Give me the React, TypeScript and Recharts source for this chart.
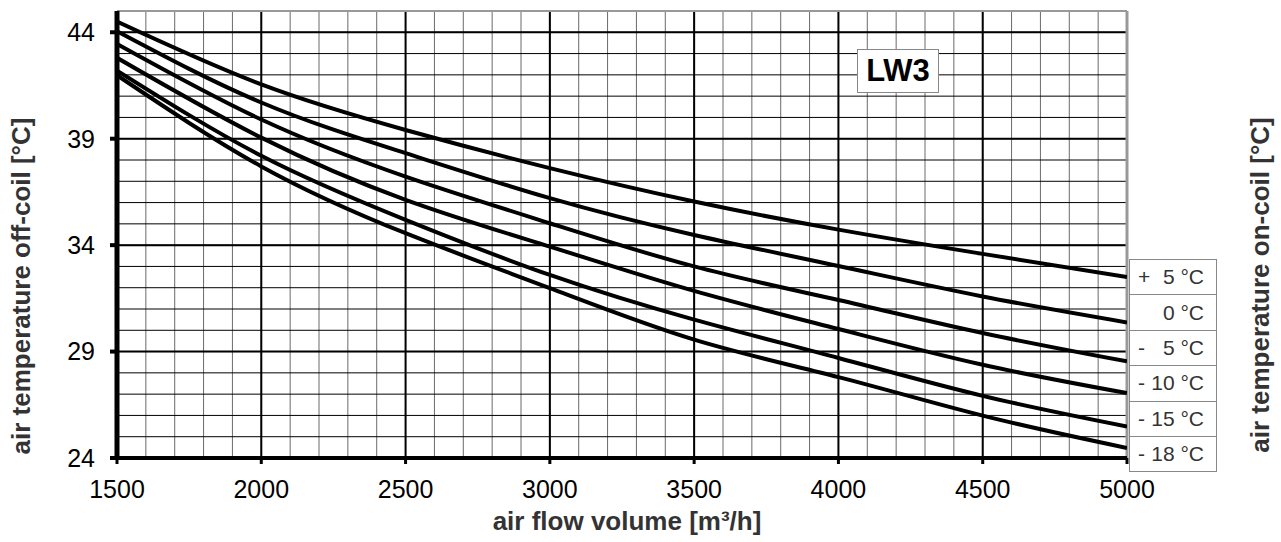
import { LineChart, Line, XAxis, YAxis, CartesianGrid, ReferenceLine } from "recharts"

// air flow volume [m³/h]
const airFlow = [1500, 2000, 2500, 3000, 3500, 4000, 4500, 5000]

// on-coil temperatures, one curve each
const onCoilTemps = [5, 0, -5, -10, -15, -18]

// off-coil temperature [°C] per curve
const offCoilPlus5 = [44.5, 41.55, 39.41, 37.62, 36.05, 34.73, 33.59, 32.5]
const offCoil0 = [44.05, 40.7, 38.32, 36.21, 34.48, 33.02, 31.59, 30.37]
const offCoilMinus5 = [43.45, 39.9, 37.22, 35.03, 33.0, 31.42, 29.87, 28.54]
const offCoilMinus10 = [42.8, 39.05, 36.13, 33.93, 31.85, 30.06, 28.38, 27.05]
const offCoilMinus15 = [42.2, 38.2, 35.19, 32.6, 30.5, 28.7, 26.92, 25.48]
const offCoilMinus18 = [41.98, 37.7, 34.56, 31.98, 29.56, 27.8, 25.99, 24.47]

const xTicks = [1500, 2000, 2500, 3000, 3500, 4000, 4500, 5000]
const yTicks = [24, 29, 34, 39, 44]

// fine grid: every 100 m³/h and every 1 °C
const xMinor = Array.from({ length: 36 }, (_, i) => 1500 + i * 100)
const yMinor = Array.from({ length: 22 }, (_, i) => 24 + i)

const curves = [offCoilPlus5, offCoil0, offCoilMinus5, offCoilMinus10, offCoilMinus15, offCoilMinus18]
const keys = onCoilTemps.map((t) => `t${t}`)

const data = airFlow.map((flow, i) => {
  const row: Record<string, number> = { flow }
  keys.forEach((k, s) => {
    row[k] = curves[s][i]
  })
  return row
})

const FONT = "'Liberation Sans', Arial, sans-serif"

function tempLabel(t: number) {
  const sign = t > 0 ? "+" : t < 0 ? "-" : ""
  return { sign, value: `${Math.abs(t)} °C` }
}

export default function App() {
  return (
    <div
      style={{
        position: "absolute",
        left: 0,
        top: 0,
        width: 1281,
        height: 542,
        background: "#fff",
        fontFamily: FONT,
      }}
    >
      <LineChart
        width={1281}
        height={542}
        data={data}
        margin={{ top: 11, right: 154, bottom: 0, left: 0 }}
      >
        <XAxis
          xAxisId="minor"
          type="number"
          dataKey="flow"
          domain={[1500, 5000]}
          ticks={xMinor}
          interval={0}
          allowDataOverflow
          hide
        />
        <YAxis
          yAxisId="minor"
          type="number"
          domain={[24, 45]}
          ticks={yMinor}
          interval={0}
          allowDataOverflow
          hide
        />
        <CartesianGrid xAxisId="minor" yAxisId="minor" horizontal={false} stroke="#6a6a6a" strokeWidth={1} />
        <CartesianGrid xAxisId="minor" yAxisId="minor" vertical={false} stroke="#000" strokeWidth={1} />
        <CartesianGrid stroke="#000" strokeWidth={2} />
        <XAxis
          dataKey="flow"
          type="number"
          domain={[1500, 5000]}
          ticks={xTicks}
          interval={0}
          allowDataOverflow
          height={84}
          tickSize={6}
          tickMargin={16}
          axisLine={{ stroke: "#000", strokeWidth: 4 }}
          tickLine={{ stroke: "#000", strokeWidth: 3 }}
          tick={{ fill: "#000", fontSize: 25, fontFamily: FONT }}
        />
        <YAxis
          type="number"
          domain={[24, 45]}
          ticks={yTicks}
          interval={0}
          allowDataOverflow
          width={117}
          tickSize={7}
          tickMargin={15}
          axisLine={{ stroke: "#000", strokeWidth: 5 }}
          tickLine={{ stroke: "#000", strokeWidth: 4 }}
          tick={{ fill: "#000", fontSize: 25, fontFamily: FONT }}
        />
        <ReferenceLine y={45} stroke="#999" strokeWidth={2} />
        <ReferenceLine x={5000} stroke="#999" strokeWidth={3} />
        {keys.map((k) => (
          <Line
            key={k}
            dataKey={k}
            type="natural"
            stroke="#000"
            strokeWidth={4}
            dot={false}
            activeDot={false}
            isAnimationActive={false}
          />
        ))}
      </LineChart>

      <div
        style={{
          position: "absolute",
          left: 857,
          top: 49,
          width: 82,
          height: 44,
          boxSizing: "border-box",
          border: "1px solid #888",
          background: "#fff",
          display: "flex",
          alignItems: "center",
          justifyContent: "center",
          fontWeight: "bold",
          fontSize: 31,
          color: "#000",
        }}
      >
        LW3
      </div>

      <div
        style={{
          position: "absolute",
          left: 1129,
          top: 259,
          width: 88,
          boxSizing: "border-box",
          border: "1px solid #888",
          background: "#fff",
        }}
      >
        {onCoilTemps.map((t, i) => {
          const { sign, value } = tempLabel(t)
          return (
            <div
              key={t}
              style={{
                height: i === 0 ? 34.4 : 35.4,
                boxSizing: "border-box",
                borderTop: i === 0 ? "none" : "1px solid #888",
                display: "flex",
                alignItems: "center",
                justifyContent: "space-between",
                padding: "0 12px 0 8px",
                fontSize: 21,
                color: "#333",
              }}
            >
              <span>{sign}</span>
              <span>{value}</span>
            </div>
          )
        })}
      </div>

      <div
        style={{
          position: "absolute",
          left: 21,
          top: 286,
          transform: "translate(-50%, -50%) rotate(-90deg)",
          whiteSpace: "nowrap",
          fontWeight: "bold",
          fontSize: 26,
          color: "#333",
        }}
      >
        air temperature off-coil [°C]
      </div>

      <div
        style={{
          position: "absolute",
          left: 1260,
          top: 285,
          transform: "translate(-50%, -50%) rotate(-90deg)",
          whiteSpace: "nowrap",
          fontWeight: "bold",
          fontSize: 26,
          color: "#333",
        }}
      >
        air temperature on-coil [°C]
      </div>

      <div
        style={{
          position: "absolute",
          left: 627,
          top: 521,
          transform: "translate(-50%, -50%)",
          whiteSpace: "nowrap",
          fontWeight: "bold",
          fontSize: 26,
          color: "#333",
        }}
      >
        air flow volume [m³/h]
      </div>
    </div>
  )
}
